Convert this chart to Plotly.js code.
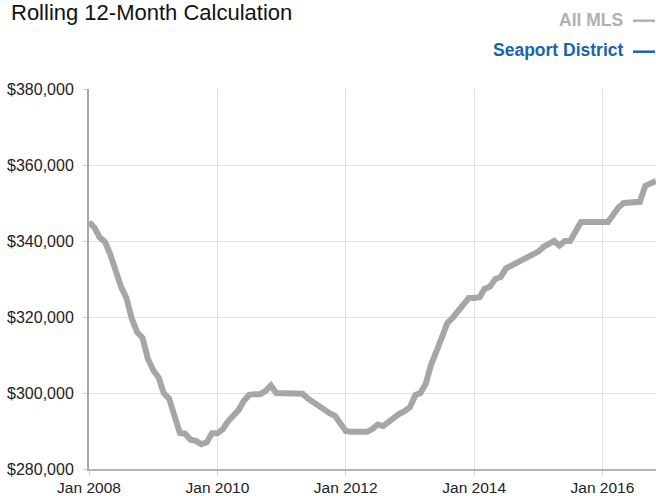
<!DOCTYPE html>
<html>
<head>
<meta charset="utf-8">
<script src="https://cdn.plot.ly/plotly-3.0.1.min.js"></script>
<style>
  html, body { margin: 0; padding: 0; background: #ffffff; }
  #chart { width: 656px; height: 496px; }
</style>
</head>
<body>
<div id="chart"></div>
<script>
// ---- Data ----
const chartTitle = 'Rolling 12-Month Calculation';
const seriesNames = ['All MLS', 'Seaport District'];
const startMonth = '2008-01';
// Median price, rolling 12 months, All MLS (one value per month from Jan 2008)
const allMlsValues = [
  345000, 343500, 341000, 339800, 336500, 332000, 328000, 325000, 319500, 316000, 314500, 309000,
  306000, 304000, 300000, 298500, 293500, 289500, 289300, 287700, 287400, 286500, 287000, 289400,
  289400, 290500, 292500, 294300, 295500, 298000, 299500, 299700, 299700, 300500, 302000, 300000,
  300000, 300000, 300000, 300000, 299800, 298500, 297500, 296800, 295500, 294700, 294000, 292000,
  290000, 289800, 289800, 289800, 289800, 290500, 291700, 291300, 292500, 293500, 294500, 295200,
  296300, 299500, 300000, 302500, 307500, 311000, 314500, 318400, 319800, 321500, 323500, 325000,
  325000, 325200, 327400, 328000, 330000, 330500, 332800, 333500, 334400, 334800, 335500, 336200,
  337200, 338500, 339200, 340000, 338800, 340000, 340000, 342500, 345000, 345000, 345000, 345000,
  345000, 345000, 346800, 348800, 350000, 350000, 350000, 350300, 354500, 355200, 355800
];
const seaportValues = [];
const yTickValues = [280000, 300000, 320000, 340000, 360000, 380000];

// month dates for the x axis
function monthDates(start, n) {
  const [y0, m0] = start.split('-').map(Number);
  const out = [];
  for (let i = 0; i < n; i++) {
    const t = (m0 - 1) + i;
    const y = y0 + Math.floor(t / 12);
    const m = (t % 12) + 1;
    out.push(y + '-' + String(m).padStart(2, '0') + '-01');
  }
  return out;
}
const dates = monthDates(startMonth, allMlsValues.length);

// ---- Geometry helpers (paper coords for overlay text) ----
const W = 656, H = 496;
const M = { l: 89, r: 0, t: 89, b: 27 };
const pw = W - M.l - M.r, ph = H - M.t - M.b;
const px = X => (X - M.l) / pw;
const py = Y => (H - M.b - Y) / ph;

const grey = '#b1b1b1';
const blue = '#1a64ad';
const legendFont = '"Liberation Sans", Arial, sans-serif';

const traces = [
  {
    type: 'scatter', mode: 'lines', name: seriesNames[0],
    x: dates, y: allMlsValues,
    line: { color: '#a6a6a6', width: 6 },
    showlegend: false, hoverinfo: 'x+y'
  },
  {
    type: 'scatter', mode: 'lines', name: seriesNames[1],
    x: [], y: seaportValues,
    line: { color: blue, width: 6 },
    showlegend: false
  }
];

const layout = {
  width: W, height: H,
  margin: M,
  paper_bgcolor: '#ffffff', plot_bgcolor: '#ffffff',
  showlegend: false,
  font: { family: '"Liberation Sans", Arial, sans-serif', size: 16, color: '#222222' },
  title: {
    text: chartTitle,
    font: { family: '"Liberation Sans", Arial, sans-serif', size: 22, color: '#111111' },
    xref: 'container', yref: 'container',
    x: 11 / W, xanchor: 'left',
    y: 1 - 12 / H, yanchor: 'middle',
    pad: { t: 0, b: 0, l: 0, r: 0 }
  },
  xaxis: {
    type: 'date',
    range: ['2008-01-01', '2016-11-01'],
    tick0: '2008-01-01', dtick: 'M24',
    tickformat: '%b %Y',
    showgrid: true, gridcolor: '#e0e0e0', gridwidth: 1,
    showline: true, linecolor: '#b4b4b4', linewidth: 1.5,
    ticks: 'outside', ticklen: 4, tickcolor: '#cccccc', tickwidth: 1,
    ticklabelstandoff: 0,
    zeroline: false, fixedrange: true,
    tickfont: { size: 15.5, color: '#222222' }
  },
  yaxis: {
    range: [280000, 380000],
    tickvals: yTickValues,
    tickformat: '$,.0f',
    showgrid: true, gridcolor: '#e0e0e0', gridwidth: 1,
    showline: true, linecolor: '#a8a8a8', linewidth: 2,
    ticks: 'outside', ticklen: 4, tickcolor: '#cccccc', tickwidth: 1,
    ticklabelstandoff: 6,
    zeroline: false, fixedrange: true,
    tickfont: { size: 16, color: '#222222' }
  },
  annotations: [
    {
      text: '<b>' + seriesNames[0] + '</b>',
      xref: 'paper', yref: 'paper', x: px(625), y: py(19.5),
      xanchor: 'right', yanchor: 'middle', showarrow: false,
      font: { family: legendFont, size: 17.5, color: grey }
    },
    {
      text: '<b>' + seriesNames[1] + '</b>',
      xref: 'paper', yref: 'paper', x: px(625), y: py(50),
      xanchor: 'right', yanchor: 'middle', showarrow: false,
      font: { family: legendFont, size: 17.5, color: blue }
    }
  ],
  shapes: [
    { type: 'line', xref: 'paper', yref: 'paper', x0: px(633), x1: px(655), y0: py(20.7), y1: py(20.7),
      line: { color: grey, width: 2.5 } },
    { type: 'line', xref: 'paper', yref: 'paper', x0: px(633), x1: px(655), y0: py(51.7), y1: py(51.7),
      line: { color: blue, width: 2.5 } }
  ]
};

Plotly.newPlot('chart', traces, layout, { staticPlot: true, displayModeBar: false });
</script>
</body>
</html>
